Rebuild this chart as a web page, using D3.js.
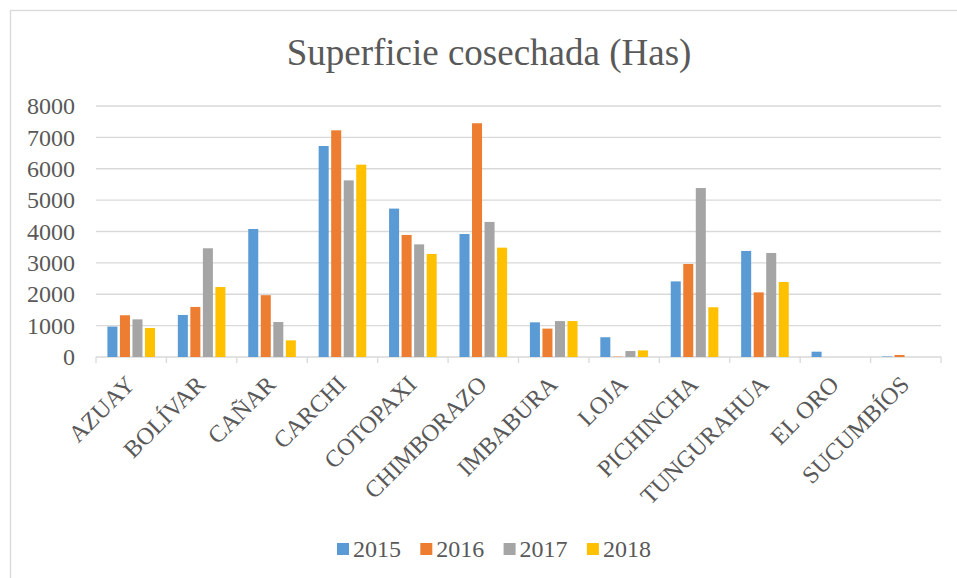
<!DOCTYPE html>
<html lang="es">
<head>
    <meta charset="UTF-8">
    <title>Superficie cosechada (Has)</title>
    <script src="https://d3js.org/d3.v7.min.js"></script>
    <style>
        body { margin: 0; background: #fff; }
        svg text { font-family: "Liberation Serif", "Times New Roman", "DejaVu Serif", serif; fill: #595959; }
        .grid line { stroke: #d9d9d9; stroke-width: 1.3px; }
    </style>
</head>
<body>
    <div id="chart"></div>
    <script>
        const provincias = ["AZUAY", "BOLÍVAR", "CAÑAR", "CARCHI", "COTOPAXI", "CHIMBORAZO",
            "IMBABURA", "LOJA", "PICHINCHA", "TUNGURAHUA", "EL ORO", "SUCUMBÍOS"];
        const anios = ["2015", "2016", "2017", "2018"];
        const v2015 = [970, 1340, 4080, 6725, 4730, 3920, 1105, 630, 2410, 3380, 170, 15];
        const v2016 = [1330, 1595, 1970, 7225, 3890, 7450, 905, 10, 2965, 2060, 0, 65];
        const v2017 = [1200, 3465, 1115, 5630, 3590, 4305, 1145, 190, 5385, 3315, 0, 0];
        const v2018 = [925, 2230, 530, 6130, 3285, 3485, 1145, 210, 1585, 2390, 0, 0];
        const yTicks = [0, 1000, 2000, 3000, 4000, 5000, 6000, 7000, 8000];
        const colores = ["#5b9bd5", "#ed7d31", "#a5a5a5", "#ffc000"];

        const series = [v2015, v2016, v2017, v2018];
        const width = 957, height = 578;
        const margin = { top: 106, right: 16, bottom: 221, left: 96 };

        const svg = d3.select("#chart").append("svg")
            .attr("width", width)
            .attr("height", height);

        // marco del gráfico
        svg.append("rect")
            .attr("x", 10.5).attr("y", 10.5)
            .attr("width", width + 20).attr("height", height + 20)
            .attr("fill", "none")
            .attr("stroke", "#d9d9d9")
            .attr("stroke-width", 1.3);

        const x0 = d3.scaleBand()
            .domain(provincias)
            .range([margin.left, width - margin.right])
            .paddingInner(0.324)
            .paddingOuter(0.162);

        const x1 = d3.scaleBand()
            .domain(anios)
            .range([0, x0.bandwidth()])
            .paddingInner(0.2);

        const y = d3.scaleLinear()
            .domain([0, 8000])
            .range([height - margin.bottom, margin.top]);

        svg.append("text")
            .attr("x", 489)
            .attr("y", 65)
            .attr("text-anchor", "middle")
            .style("font-size", "37px")
            .text("Superficie cosechada (Has)");

        // líneas de cuadrícula
        svg.append("g").attr("class", "grid")
            .selectAll("line")
            .data(yTicks)
            .join("line")
            .attr("x1", margin.left)
            .attr("x2", width - margin.right)
            .attr("y1", d => y(d))
            .attr("y2", d => y(d));

        svg.append("g")
            .selectAll("text")
            .data(yTicks)
            .join("text")
            .attr("x", 75)
            .attr("y", d => y(d))
            .attr("dy", "0.34em")
            .attr("text-anchor", "end")
            .style("font-size", "24px")
            .text(d => d);

        // marcas del eje x
        const bordes = provincias.map(p => x0(p) - x0.step() * x0.paddingInner() / 2);
        bordes.push(width - margin.right);
        svg.append("g")
            .selectAll("line")
            .data(bordes)
            .join("line")
            .attr("x1", d => d).attr("x2", d => d)
            .attr("y1", y(0)).attr("y2", y(0) + 6)
            .attr("stroke", "#d9d9d9")
            .attr("stroke-width", 1.3);

        // barras
        const grupos = svg.append("g")
            .selectAll("g")
            .data(provincias)
            .join("g")
            .attr("transform", p => `translate(${x0(p)},0)`);

        grupos.selectAll("rect")
            .data((p, i) => anios.map((a, k) => ({ anio: a, valor: series[k][i], k })))
            .join("rect")
            .attr("x", d => x1(d.anio))
            .attr("width", x1.bandwidth())
            .attr("y", d => y(d.valor))
            .attr("height", d => y(0) - y(d.valor))
            .attr("fill", d => colores[d.k]);

        // etiquetas de categoría
        svg.append("g")
            .selectAll("text")
            .data(provincias)
            .join("text")
            .attr("transform", p => `translate(${x0(p) + x0.bandwidth() / 2 - 1},${y(0) + 23}) rotate(-45)`)
            .attr("text-anchor", "end")
            .attr("dy", "0.35em")
            .style("font-size", "24px")
            .text(p => p);

        // leyenda
        const leyenda = svg.append("g")
            .selectAll("g")
            .data(anios)
            .join("g")
            .attr("transform", (a, i) => `translate(${337 + i * 83.3},543)`);

        leyenda.append("rect")
            .attr("width", 12).attr("height", 12)
            .attr("fill", (a, i) => colores[i]);

        leyenda.append("text")
            .attr("x", 16)
            .attr("y", 14)
            .style("font-size", "24px")
            .text(a => a);
    </script>
</body>
</html>
